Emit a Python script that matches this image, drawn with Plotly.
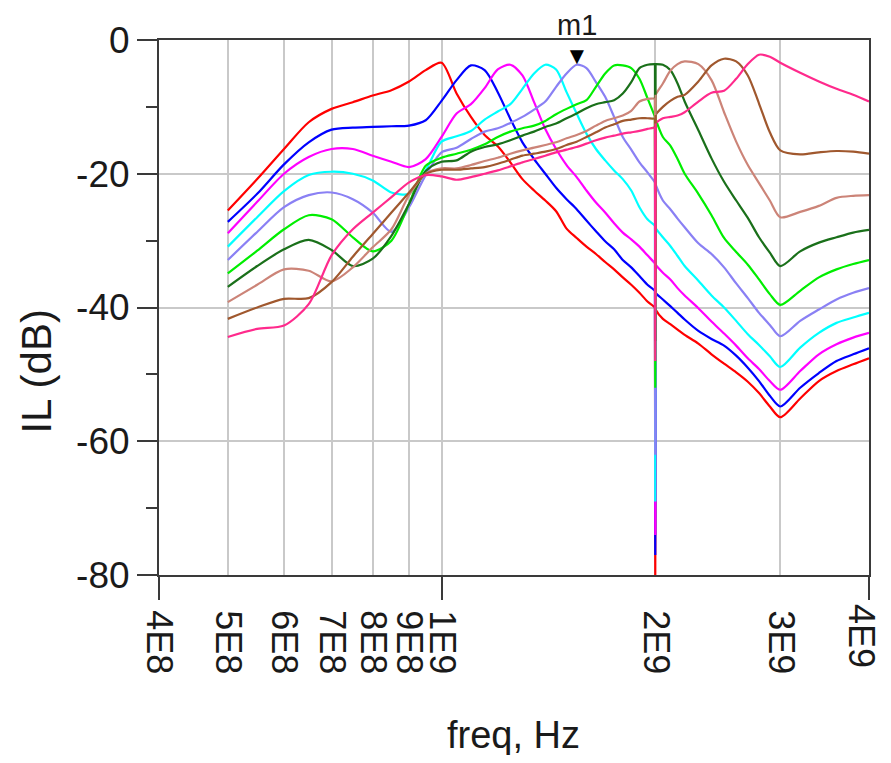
import math
import plotly.graph_objects as go

# ---------------- data ----------------
FREQ_GHZ = [0.5, 0.55, 0.6, 0.65, 0.7, 0.75, 0.8, 0.85, 0.9, 0.95,
            1.0, 1.05, 1.1, 1.15, 1.2, 1.25, 1.3, 1.35, 1.4, 1.45,
            1.5, 1.55, 1.6, 1.65, 1.7, 1.75, 1.8, 1.85, 1.9, 1.95,
            1.998, 2.0, 2.002, 2.05, 2.1, 2.15, 2.2, 2.3, 2.4, 2.5,
            2.6, 2.7, 2.8, 2.9, 3.0, 3.2, 3.4, 3.6, 3.8, 4.0]
DIP_INDEX = 31  # position of the narrow 2 GHz notch in FREQ_GHZ

IL_RED = [-25.5, -20.8, -16.3, -12.3, -10.3, -9.3, -8.3, -7.5, -6.2, -4.5,
          -3.4, -8.0, -11.5, -14.2, -15.9, -18.3, -20.8, -22.5, -24.0, -25.6,
          -28.2, -29.6, -30.9, -32.0, -33.2, -34.3, -35.5, -36.6, -37.8, -39.1,
          -40.0, -80.0, -40.3, -41.7, -42.5, -43.3, -44.1, -45.4, -47.0, -48.4,
          -49.7, -51.1, -52.8, -54.8, -56.4, -53.6, -51.0, -49.5, -48.5, -47.6]

IL_BLUE = [-27.2, -23.0, -18.6, -15.3, -13.4, -13.1, -13.0, -12.9, -12.8, -12.0,
           -9.1, -6.0, -3.8, -4.5, -7.8, -11.8, -15.3, -17.8, -20.0, -22.1,
           -23.8, -25.3, -27.0, -28.6, -30.1, -31.3, -32.9, -34.0, -35.3, -36.6,
           -37.5, -77.0, -37.8, -38.8, -39.8, -40.8, -41.8, -43.5, -44.7, -45.7,
           -47.2, -49.0, -51.0, -53.2, -54.8, -52.0, -49.8, -48.0, -47.0, -46.1]

IL_MAGENTA = [-28.9, -24.2, -20.0, -17.5, -16.3, -16.3, -17.3, -18.2, -19.0, -17.8,
              -14.5, -11.0, -9.6, -7.2, -4.4, -3.7, -5.3, -9.3, -13.3, -16.3,
              -18.7, -20.5, -22.5, -24.3, -25.8, -27.4, -28.8, -29.8, -30.9, -32.2,
              -33.4, -74.0, -33.6, -34.8, -35.8, -37.1, -38.2, -40.1, -42.1, -43.9,
              -45.7, -47.6, -49.2, -51.0, -52.3, -49.5, -47.0, -45.5, -44.5, -43.8]

IL_CYAN = [-30.9, -26.5, -22.6, -20.2, -19.7, -20.0, -21.0, -22.8, -23.0, -19.5,
           -15.2, -14.4, -13.6, -11.9, -10.7, -9.6, -7.3, -5.0, -3.7, -4.4,
           -7.8, -11.0, -14.0, -16.3, -18.0, -19.5, -20.8, -22.5, -25.0, -26.8,
           -27.8, -69.0, -28.1, -29.5, -30.8, -32.3, -33.8, -36.0, -38.2, -40.0,
           -42.0, -44.0, -45.6, -47.3, -48.9, -46.0, -43.8, -42.3, -41.5, -40.8]

IL_LAVENDER = [-32.9, -28.7, -25.0, -23.2, -22.8, -23.8, -25.8, -28.7, -25.0, -20.2,
               -16.8, -16.1, -14.8, -13.7, -13.2, -12.4, -11.5, -10.4, -9.2, -7.0,
               -5.0, -3.7, -4.2, -6.3, -8.5, -11.5, -14.5, -16.4, -18.3, -19.8,
               -21.3, -62.0, -21.6, -24.0, -25.3, -26.7, -28.0, -30.4, -32.0, -34.0,
               -36.4, -38.6, -40.8, -42.6, -44.3, -42.0, -40.3, -38.8, -37.8, -37.1]

IL_GREEN = [-34.9, -31.5, -28.3, -26.2, -26.8, -29.5, -31.6, -30.0, -24.5, -18.8,
            -17.6, -17.0, -16.4, -15.6, -14.5, -13.7, -13.2, -12.8, -12.1, -11.1,
            -10.3, -9.6, -9.0, -7.0, -5.0, -3.8, -3.8, -4.2, -5.8, -8.7,
            -11.5, -52.0, -11.8, -14.5, -15.8, -17.8, -20.0, -23.0, -26.2, -29.6,
            -31.7, -33.6, -35.8, -38.0, -39.6, -37.5, -35.5, -34.3, -33.5, -32.9]

IL_DARKGREEN = [-36.9, -33.8, -31.3, -29.9, -31.4, -33.8, -32.7, -29.3, -24.5, -19.6,
                -18.2, -18.0, -16.7, -16.0, -15.6, -15.0, -14.3, -13.7, -13.0, -12.5,
                -11.7, -11.0, -10.2, -9.6, -9.3, -9.0, -8.0, -6.3, -4.2, -3.7,
                -3.6, -45.0, -3.6, -3.7, -4.5, -6.5, -9.2, -13.5, -17.7, -21.2,
                -24.0, -26.6, -29.5, -31.8, -33.8, -31.6, -30.3, -29.5, -28.8, -28.4]

IL_ROSYBROWN = [-39.2, -36.6, -34.3, -34.5, -36.1, -34.0, -31.0, -28.3, -23.2, -20.0,
                -19.2, -19.2, -18.7, -18.1, -17.6, -17.0, -16.5, -16.1, -15.7, -15.3,
                -14.7, -14.2, -13.6, -12.8, -12.1, -11.7, -11.3, -10.6, -9.2, -8.8,
                -8.7, -40.0, -8.2, -6.5, -4.6, -3.6, -3.2, -3.6, -6.0, -10.8,
                -15.2, -18.7, -21.4, -24.0, -26.5, -25.7, -24.8, -23.6, -23.3, -23.2]

IL_BROWN = [-41.7, -40.0, -38.7, -38.6, -36.2, -32.4, -29.0, -25.8, -22.8, -20.0,
            -19.4, -19.4, -19.2, -19.0, -18.5, -17.9, -17.3, -17.0, -16.7, -16.3,
            -15.7, -15.2, -14.5, -13.8, -13.1, -12.6, -12.1, -11.9, -11.7, -11.7,
            -11.7, -38.0, -11.2, -10.0, -9.1, -8.5, -8.2, -6.2, -3.8, -2.8,
            -3.2, -5.3, -9.5, -13.8, -16.5, -17.1, -16.8, -16.6, -16.7, -17.0]

IL_PINK = [-44.4, -43.2, -42.7, -39.5, -32.2, -28.3, -25.8, -23.5, -21.3, -20.2,
           -20.4, -20.9, -20.5, -20.0, -19.5, -18.9, -18.3, -17.8, -17.3, -16.8,
           -16.4, -16.0, -15.5, -15.0, -14.6, -14.3, -14.0, -13.8, -13.6, -13.3,
           -13.0, -48.0, -12.5, -11.7, -11.5, -11.3, -10.8, -9.2, -7.9, -7.6,
           -5.8, -3.6, -2.2, -2.5, -3.4, -4.9, -6.2, -7.3, -8.2, -9.2]

SERIES = [IL_RED, IL_BLUE, IL_MAGENTA, IL_CYAN, IL_LAVENDER,
          IL_GREEN, IL_DARKGREEN, IL_ROSYBROWN, IL_BROWN, IL_PINK]
COLORS = ["#ff0000", "#0000ff", "#ff00ff", "#00ffff", "#8a80f4",
          "#00ee00", "#1a701a", "#cc8478", "#a0582e", "#ff2a8c"]

X_TICK_VALS = [4e8, 5e8, 6e8, 7e8, 8e8, 9e8, 1e9, 2e9, 3e9, 4e9]
X_TICK_TEXT = ["4E8", "5E8", "6E8", "7E8", "8E8", "9E8", "1E9", "2E9", "3E9", "4E9"]
X_MAJOR_TICK_VALS = [4e8, 1e9, 4e9]
Y_TICK_VALS = [0, -20, -40, -60, -80]
Y_TICK_TEXT = ["0", "-20", "-40", "-60", "-80"]
Y_MINOR_TICK_VALS = [-10, -30, -50, -70]

M1_FREQ = 1.55e9
M1_VAL = -3.7
M1_LABEL = "m1"

X_TITLE = "freq, Hz"
Y_TITLE = "IL (dB)"

# ---------------- figure ----------------
freq_hz = [f * 1e9 for f in FREQ_GHZ]
FONT = "Liberation Sans, Arial, sans-serif"
AXIS_COLOR = "#3a3a3a"
GRID_COLOR = "#c9c9c9"
TICK_FONT = dict(size=36, family=FONT, color="#1a1a1a")

fig = go.Figure()
d = DIP_INDEX
for vals, col in zip(SERIES, COLORS):
    # smooth body of the curve (notch point left out)
    fig.add_trace(go.Scatter(x=freq_hz[:d] + freq_hz[d + 1:],
                             y=vals[:d] + vals[d + 1:], mode="lines",
                             line=dict(color=col, width=2.2, shape="spline",
                                       smoothing=0.8),
                             showlegend=False, hoverinfo="skip"))
for vals, col in zip(SERIES, COLORS):
    # the very narrow notch at 2 GHz, drawn straight
    fig.add_trace(go.Scatter(x=freq_hz[d - 1:d + 2], y=vals[d - 1:d + 2],
                             mode="lines", line=dict(color=col, width=2.2),
                             showlegend=False, hoverinfo="skip"))

# helper (empty) trace so the overlay axis carrying the long tick marks is drawn
fig.add_trace(go.Scatter(x=[], y=[], xaxis="x2", yaxis="y", showlegend=False))

xr = [math.log10(X_TICK_VALS[0]), math.log10(X_TICK_VALS[-1])]

# the page body adds an 8 px margin on every side; keep the page from overflowing
fig.update_layout(
    width=875, height=747,
    margin=dict(l=151, r=14, t=32, b=180),
    paper_bgcolor="white", plot_bgcolor="white",
    font=dict(family=FONT, color="#1a1a1a"),
    showlegend=False,
    xaxis=dict(type="log", range=xr, tickmode="array",
               tickvals=X_TICK_VALS[:-1], ticktext=X_TICK_TEXT[:-1],
               tickangle=90, ticks="", ticklabelstandoff=26,
               tickfont=TICK_FONT,
               showgrid=True, gridcolor=GRID_COLOR, gridwidth=1.5,
               showline=True, linecolor=AXIS_COLOR, linewidth=2, mirror=True,
               zeroline=False, fixedrange=True),
    xaxis2=dict(type="log", range=xr, overlaying="x", anchor="y", side="bottom",
                tickmode="array", tickvals=X_MAJOR_TICK_VALS,
                ticks="outside", ticklen=24, tickwidth=2, tickcolor=AXIS_COLOR,
                showticklabels=False, showgrid=False, showline=False,
                zeroline=False),
    yaxis=dict(range=[-80, 0], tickmode="array",
               tickvals=Y_TICK_VALS, ticktext=Y_TICK_TEXT,
               ticks="outside", ticklen=20, tickwidth=2, tickcolor=AXIS_COLOR,
               tickfont=dict(size=37, family=FONT, color="#1a1a1a"),
               minor=dict(tickmode="array", tickvals=Y_MINOR_TICK_VALS,
                          ticks="outside", ticklen=11, tickwidth=2,
                          tickcolor=AXIS_COLOR, showgrid=False),
               showgrid=True, gridcolor=GRID_COLOR, gridwidth=1.5,
               showline=True, linecolor=AXIS_COLOR, linewidth=2, mirror=True,
               zeroline=False),
)

# last x tick label (at the right edge) drawn as an annotation so it is not hidden
fig.add_annotation(text=X_TICK_TEXT[-1], x=math.log10(X_TICK_VALS[-1]), y=0,
                   xref="x", yref="paper", showarrow=False, textangle=90,
                   xanchor="center", yanchor="top", yshift=-28, xshift=-7,
                   borderpad=0, font=TICK_FONT)

fig.add_annotation(text=Y_TITLE, xref="paper", yref="paper",
                   x=-0.172, y=0.38, showarrow=False, textangle=-90,
                   font=dict(size=42, family=FONT, color="#1a1a1a"),
                   xanchor="center", yanchor="middle")
fig.add_annotation(text=X_TITLE, xref="paper", yref="paper",
                   x=0.4986, y=-0.299, showarrow=False,
                   font=dict(size=38, family=FONT, color="#1a1a1a"),
                   xanchor="center", yanchor="middle")
# marker m1
fig.add_annotation(text="\u25BC", x=math.log10(M1_FREQ), y=M1_VAL,
                   xref="x", yref="y", showarrow=False,
                   xanchor="center", yanchor="bottom", yshift=-6,
                   font=dict(size=24, color="black"))
fig.add_annotation(text=M1_LABEL, x=math.log10(M1_FREQ), y=M1_VAL,
                   xref="x", yref="y", showarrow=False,
                   xanchor="center", yanchor="bottom", yshift=22,
                   font=dict(size=29, family=FONT, color="#1a1a1a"))

fig.write_html("out.html")
